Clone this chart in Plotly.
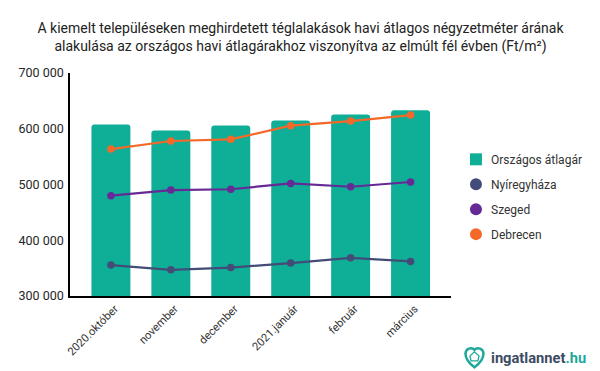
import plotly.graph_objects as go

categories = ["2020.október", "november", "december", "2021.január", "február", "március"]
orszagos = [607800, 597000, 606000, 615000, 625700, 633000]
nyiregyhaza = [355500, 347000, 351000, 359000, 368500, 362000]
szeged = [480000, 490000, 491500, 502000, 496000, 504500]
debrecen = [563600, 578000, 581000, 605500, 613800, 624500]
y_ticks = [300000, 400000, 500000, 600000, 700000]
legend_labels = ["Országos átlagár", "Nyíregyháza", "Szeged", "Debrecen"]

TEAL = "#0FAE96"
NAVY = "#434B78"
PURPLE = "#652A96"
ORANGE = "#F4692A"
TXT = "#262626"
FONT = "Roboto"

L, R, T, B = 69.5, 451, 72.5, 296
W, H = 600, 371

def px(xp): return (xp - L) / (R - L)
def py(yp): return (B - yp) / (B - T)

x = list(range(len(categories)))
fig = go.Figure()
fig.add_trace(go.Bar(x=x, y=orszagos, width=0.65, name=legend_labels[0],
                     marker=dict(color=TEAL, cornerradius=3, line_width=0), showlegend=False))
for name, vals, col in [(legend_labels[1], nyiregyhaza, NAVY),
                        (legend_labels[2], szeged, PURPLE),
                        (legend_labels[3], debrecen, ORANGE)]:
    fig.add_trace(go.Scatter(x=x, y=vals, mode="lines+markers", name=name, showlegend=False,
                             line=dict(color=col, width=2.2),
                             marker=dict(color=col, size=7.5)))

fig.update_layout(
    width=W, height=H, autosize=False,
    paper_bgcolor="white", plot_bgcolor="white",
    margin=dict(l=L, r=W - R, t=T, b=H - B, autoexpand=False),
    font=dict(family=FONT, size=12, color=TXT),
    separators=", ",
    showlegend=False,
    xaxis=dict(range=[-0.683, 5.675],
               tickmode="array", tickvals=x, ticktext=categories, tickangle=-45,
               ticklabelshift=4,
               showgrid=False, zeroline=False, showline=True, linecolor="black", linewidth=1.5,
               ticks="", tickfont=dict(size=11.2, color="#333333")),
    yaxis=dict(range=[300000, 700000],
               tickmode="array", tickvals=y_ticks, tickformat=",d",
               ticklabelstandoff=2,
               showgrid=False, zeroline=False, showline=True, linecolor="black", linewidth=1.5,
               ticks="", tickfont=dict(size=12.5, color=TXT)),
    title=dict(text="A kiemelt településeken meghirdetett téglalakások havi átlagos négyzetméter árának<br>"
                    "alakulása az országos havi átlagárakhoz viszonyítva az elmúlt fél évben (Ft/m²)",
               x=300.5 / W, xanchor="center", y=1 - 33 / H, yanchor="middle",
               font=dict(size=14, color="#222222", family=FONT)),
)

# Legend drawn in pixel-matched paper coordinates
legend_y = [159, 184, 209, 234]
legend_colors = [TEAL, NAVY, PURPLE, ORANGE]
for i, (lab, col, ly) in enumerate(zip(legend_labels, legend_colors, legend_y)):
    fig.add_shape(type="rect" if i == 0 else "circle", xref="paper", yref="paper",
                  x0=px(470), x1=px(482), y0=py(ly + 6), y1=py(ly - 6),
                  fillcolor=col, line_width=0)
    fig.add_annotation(x=px(489.3), y=py(ly + 0.5), xref="paper", yref="paper", xanchor="left", yanchor="middle",
                       showarrow=False, text=lab, font=dict(size=12, color="#333333", family=FONT))

heart = ("M {a} {b} C {c} {d} {e} {f} {g} {h} C {i} {j} {k} {l} {m} {n} "
         "C {o} {p} {q} {r} {s} {t} C {u} {v} {w} {y} {a} {b} Z").format(
    a=px(474.5), b=py(367.5), c=px(469), d=py(363.5), e=px(465.5), f=py(359), g=px(465.5), h=py(354),
    i=px(465.5), j=py(349), k=px(471.5), l=py(346.5), m=px(474.5), n=py(350),
    o=px(477.5), p=py(346.5), q=px(483.5), r=py(349), s=px(483.5), t=py(354),
    u=px(483.5), v=py(359), w=px(480), y=py(363.5))
fig.add_shape(type="path", xref="paper", yref="paper", path=heart,
              line=dict(color="#1FA79A", width=2.5), fillcolor="white")
house = "M {} {} L {} {} L {} {} L {} {} L {} {} Z".format(
    px(470), py(356), px(474.5), py(352), px(479), py(356), px(478), py(361), px(471), py(361))
fig.add_shape(type="path", xref="paper", yref="paper", path=house,
              line=dict(color="#1FA79A", width=1.3), fillcolor="white")
fig.add_annotation(x=px(489.5), y=py(358), xref="paper", yref="paper", xanchor="left", yanchor="middle",
                   showarrow=False,
                   text="<b><span style='color:#3D4C63'>ingatlannet</span><span style='color:#1FA79A'>.hu</span></b>",
                   font=dict(size=14.7, family=FONT))
fig.write_html("out.html", config={"displayModeBar": False},
               post_script="document.body.style.margin='0';document.documentElement.style.overflow='hidden';")
